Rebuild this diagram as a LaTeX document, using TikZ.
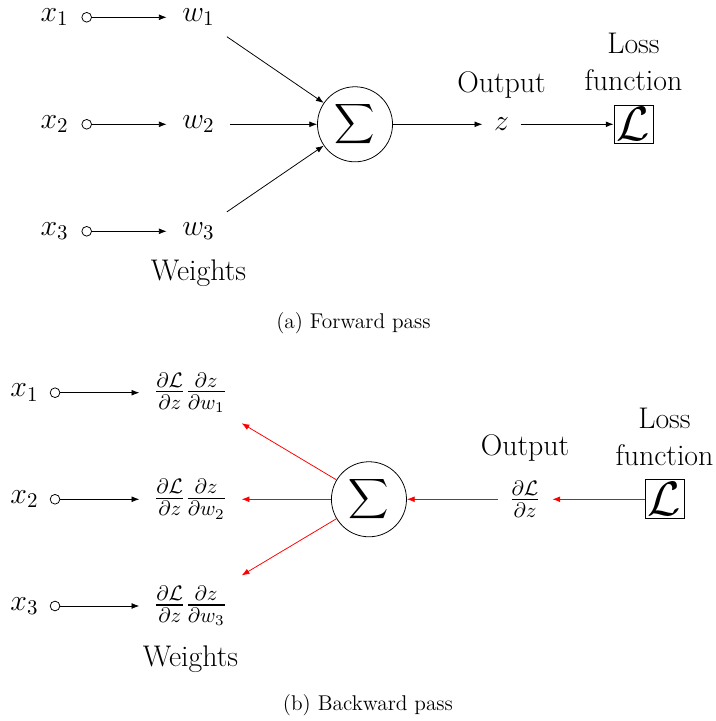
\documentclass[tikz,border=0pt]{standalone}
\usepackage{fix-cm}
\usepackage{amsmath}
\usetikzlibrary{positioning, arrows.meta}

\begin{document}
\begin{tikzpicture}[
  every node/.style={font=\fontsize{15.4}{19.3}\selectfont},
  port/.style={draw, circle, inner sep=0pt, minimum size=5pt},
  wt/.style={minimum width=1.14cm, minimum height=0.69cm},
  grad/.style={minimum width=1.84cm, minimum height=1.12cm},
  outnode/.style={minimum width=0.68cm},
  gradout/.style={minimum width=0.98cm},
  sumnode/.style={draw, circle, minimum size=1.36cm, inner sep=0pt},
  lossbox/.style={draw, inner sep=1.5pt, font=\Huge},
  caption/.style={font=\fontsize{11}{13.6}\selectfont, anchor=base},
  arr/.style={-{Latex[length=4pt, width=3pt]}},
  back/.style={arr, red}
]
  \useasboundingbox (0,0) rectangle (12.974,-13.065);

  % (a) forward pass
  \node (fx1) at (0.988,-0.313) {$x_1$};
  \node (fx2) at (0.988,-2.252) {$x_2$};
  \node (fx3) at (0.988,-4.191) {$x_3$};
  \node[port] (fp1) at (1.571,-0.313) {};
  \node[port] (fp2) at (1.571,-2.252) {};
  \node[port] (fp3) at (1.571,-4.191) {};
  \node[wt] (fw1) at (3.597,-0.313) {$w_1$};
  \node[wt] (fw2) at (3.597,-2.252) {$w_2$};
  \node[wt] (fw3) at (3.597,-4.191) {$w_3$};
  \node[sumnode] (fsum) at (6.433,-2.252) {$\displaystyle\sum$};
  \node[outnode] (fz) at (9.087,-2.252) {$z$};
  \node[lossbox] (floss) at (11.479,-2.252) {$\mathcal{L}$};
  \node[above=3pt of fz] (fout) {Output};
  \node[above=3.5pt of floss, align=center] (flossl) {Loss\\function};
  \node[below=1pt of fw3] (fwts) {Weights};
  \node[caption] (capa) at (6.405,-5.961) {(a) Forward pass};

  \draw[arr] (fp1) -- (fw1);
  \draw[arr] (fp2) -- (fw2);
  \draw[arr] (fp3) -- (fw3);
  \draw[arr] (fw1) -- (fsum);
  \draw[arr] (fw2) -- (fsum);
  \draw[arr] (fw3) -- (fsum);
  \draw[arr] (fsum) -- (fz);
  \draw[arr] (fz) -- (floss);

  % (b) backward pass
  \node (bx1) at (0.444,-7.116) {$x_1$};
  \node (bx2) at (0.444,-9.047) {$x_2$};
  \node (bx3) at (0.444,-10.981) {$x_3$};
  \node[port] (bp1) at (0.997,-7.116) {};
  \node[port] (bp2) at (0.997,-9.047) {};
  \node[port] (bp3) at (0.997,-10.981) {};
  \node[grad] (bg1) at (3.452,-7.116) {$\frac{\partial\mathcal{L}}{\partial z}\frac{\partial z}{\partial w_1}$};
  \node[grad] (bg2) at (3.452,-9.047) {$\frac{\partial\mathcal{L}}{\partial z}\frac{\partial z}{\partial w_2}$};
  \node[grad] (bg3) at (3.452,-10.981) {$\frac{\partial\mathcal{L}}{\partial z}\frac{\partial z}{\partial w_3}$};
  \node[sumnode] (bsum) at (6.686,-9.047) {$\displaystyle\sum$};
  \node[gradout] (bz) at (9.513,-9.047) {$\frac{\partial\mathcal{L}}{\partial z}$};
  \node[lossbox] (bloss) at (12.041,-9.047) {$\mathcal{L}$};
  \node[above=3pt of bz] (bout) {Output};
  \node[above=3.5pt of bloss, align=center] (blossl) {Loss\\function};
  \node[below=1pt of bg3] (bwts) {Weights};
  \node[caption] (capb) at (6.668,-12.883) {(b) Backward pass};

  \draw[arr] (bp1) -- (bg1);
  \draw[arr] (bp2) -- (bg2);
  \draw[arr] (bp3) -- (bg3);
  \draw[back] (bsum) -- (bg1);
  \draw[back] (bsum) -- (bg2);
  \draw[back] (bsum) -- (bg3);
  \draw[back] (bz) -- (bsum);
  \draw[back] (bloss) -- (bz);
\end{tikzpicture}
\end{document}
